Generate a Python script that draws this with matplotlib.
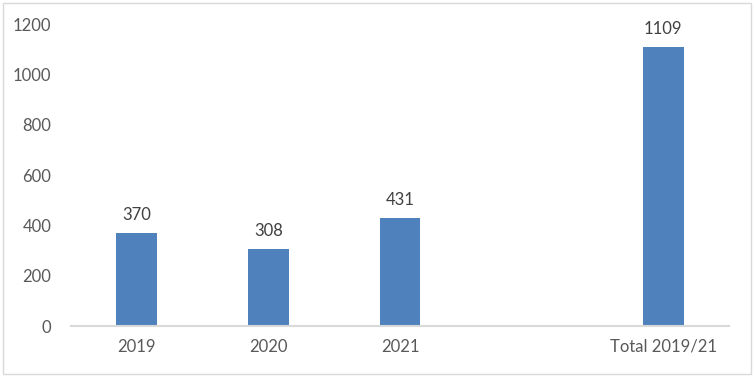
import matplotlib.pyplot as plt
from matplotlib.patches import Rectangle

categories = ["2019", "2020", "2021", "", "Total 2019/21"]
values = [370, 308, 431, None, 1109]
yticks = [0, 200, 400, 600, 800, 1000, 1200]

plt.rcParams['font.family'] = ['Lato', 'DejaVu Sans']
text_color = '#595959'

fig = plt.figure(figsize=(7.54, 3.77), dpi=100)
ax = fig.add_axes([0.094, 0.135, 0.873, 0.801])

xs = list(range(len(categories)))
for x, v in zip(xs, values):
    if v is None:
        continue
    ax.bar(x, v, width=0.31, color='#4F81BD', zorder=2)
    ax.text(x, v + 40, str(v), ha='center', va='bottom', fontsize=12, color='#404040')

ax.set_xlim(-0.5, len(categories) - 0.5)
ax.set_ylim(0, 1200)
ax.set_yticks(yticks)
ax.set_yticklabels([str(t) for t in yticks])
ax.set_xticks(xs)
ax.set_xticklabels(categories)
ax.tick_params(axis='both', length=0, labelsize=12, colors=text_color)
ax.tick_params(axis='y', pad=14)
ax.tick_params(axis='x', pad=9)
for s in ['top', 'right', 'left']:
    ax.spines[s].set_visible(False)
ax.spines['bottom'].set_color('#D9D9D9')
ax.spines['bottom'].set_linewidth(1.5)

fig.patches.append(Rectangle((0.004, 0.008), 0.992, 0.984, transform=fig.transFigure,
                             fill=False, edgecolor='#D9D9D9', linewidth=1))

fig.savefig('out.png', dpi=100)
